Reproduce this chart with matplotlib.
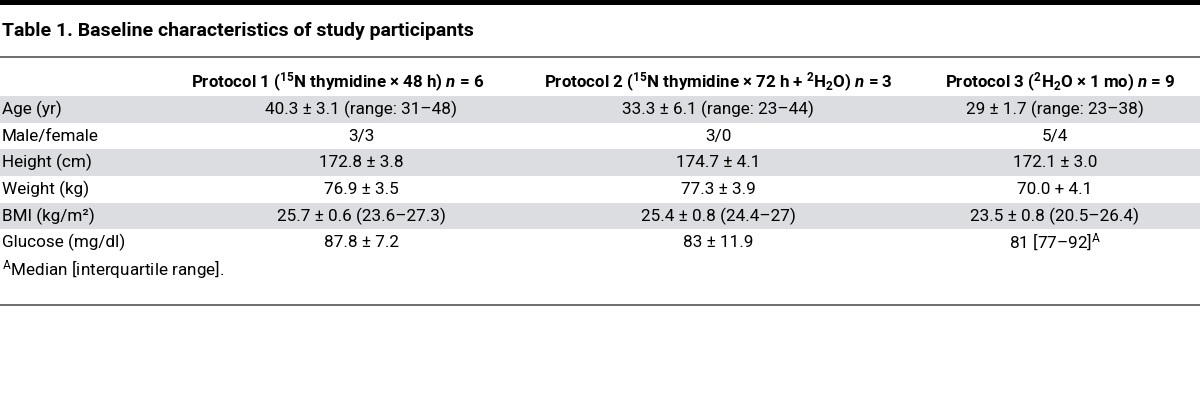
import matplotlib
matplotlib.use('Agg')
import matplotlib.pyplot as plt

plt.rcParams['font.family'] = ['Roboto', 'DejaVu Sans']
plt.rcParams['mathtext.fontset'] = 'custom'
plt.rcParams['mathtext.rm'] = 'Roboto:bold'
plt.rcParams['mathtext.it'] = 'Roboto:italic:bold'
plt.rcParams['mathtext.bf'] = 'Roboto:bold'
plt.rcParams['mathtext.sf'] = 'Roboto'

title = 'Table 1. Baseline characteristics of study participants'
headers = [r'Protocol 1 ($^{15}$N thymidine × 48 h) $n$ = 6',
           r'Protocol 2 ($^{15}$N thymidine × 72 h + $^{2}$H$_{2}$O) $n$ = 3',
           r'Protocol 3 ($^{2}$H$_{2}$O × 1 mo) $n$ = 9']
row_labels = ['Age (yr)', 'Male/female', 'Height (cm)', 'Weight (kg)',
              'BMI (kg/m²)', 'Glucose (mg/dl)']
protocol1 = ['40.3 ± 3.1 (range: 31–48)', '3/3', '172.8 ± 3.8', '76.9 ± 3.5',
             '25.7 ± 0.6 (23.6–27.3)', '87.8 ± 7.2']
protocol2 = ['33.3 ± 6.1 (range: 23–44)', '3/0', '174.7 ± 4.1', '77.3 ± 3.9',
             '25.4 ± 0.8 (24.4–27)', '83 ± 11.9']
protocol3 = ['29 ± 1.7 (range: 23–38)', '5/4', '172.1 ± 3.0', '70.0 + 4.1',
             '23.5 ± 0.8 (20.5–26.4)', r'81 [77–92]$^{\mathsf{A}}$']
footnote = r'$^{\mathsf{A}}$Median [interquartile range].'

fig = plt.figure(figsize=(12, 4.18), dpi=100)
ax = fig.add_axes([0, 0, 1, 1])
ax.set_xlim(0, 1200)
ax.set_ylim(418, 0)
ax.axis('off')

# top bar and rules
ax.axhspan(0, 4.5, color='black', lw=0)
ax.axhline(57, color='#555555', lw=1.2)
ax.axhline(305, color='#555555', lw=1.2)

ax.text(2, 31, title, fontsize=14, fontweight='bold', va='center', ha='left')

col_x = [361, 718, 1055]
head_x = [338, 718, 1060]
for x, h in zip(head_x, headers):
    ax.text(x, 82, h, fontsize=12.2, fontweight='bold', ha='center', va='center')

row_h = 26.6
y0 = 109.5
for i, lab in enumerate(row_labels):
    y = y0 + i * row_h
    if i % 2 == 0:
        ax.axhspan(y - row_h / 2, y + row_h / 2, color='#dcdde0', lw=0, zorder=0)
    ax.text(2, y, lab, fontsize=12.3, ha='left', va='center')
    for x, col in zip(col_x, [protocol1, protocol2, protocol3]):
        ax.text(x, y, col[i], fontsize=12.3, ha='center', va='center')

ax.text(2, 270, footnote, fontsize=12.3, ha='left', va='center')

fig.savefig('out.png', dpi=100)
